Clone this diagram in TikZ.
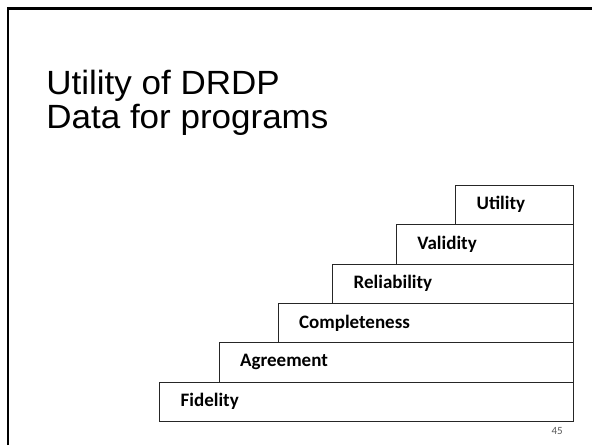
\documentclass[tikz,border=0pt]{standalone}
\usepackage{fontspec}
\setmainfont{Carlito}
\newfontfamily\titlefont{Liberation Sans}
\begin{document}
\begin{tikzpicture}[x=1pt,y=-1pt,
  stepbox/.style={draw=black!85, line width=0.8pt, anchor=north west, inner xsep=21pt, inner ysep=0pt,
    minimum height=39.4pt, align=left, font=\bfseries\fontsize{19}{22}\selectfont},
  titletext/.style={anchor=base west, inner sep=0pt, font=\titlefont\fontsize{35}{36}\selectfont},
  framestyle/.style={line width=2.5pt, black}]
\useasboundingbox (0,0) rectangle (592,445);
\fill[white] (0,0) rectangle (592,445);
\draw[framestyle] (8.2,445) -- (8.2,8.4) -- (592,8.4);
\node[titletext] (title1) at (46.2,94.5) {\scalebox{1}[0.96]{Utility of DRDP}};
\node[titletext] (title2) at (46.2,128.5) {\scalebox{1}[0.96]{Data for programs}};
\node[stepbox, text width=573-159.3-42] (fid) at (159.3,381.7) {Fidelity};
\node[stepbox, text width=573-218.7-42] (agr) at (218.7,342.3) {Agreement};
\node[stepbox, text width=573-277.7-42] (com) at (277.7,302.9) {Completeness};
\node[stepbox, text width=573-332.3-42] (rel) at (332.3,263.5) {Reliability};
\node[stepbox, text width=573-396-42] (val) at (396,224.1) {Validity};
\node[stepbox, text width=573-455.3-42] (uti) at (455.3,184.7) {Utility};
\node[anchor=base east, inner sep=0pt, text=black!65, font=\fontsize{11}{12}\selectfont] (pg) at (563,434.3) {45};
\end{tikzpicture}
\end{document}
